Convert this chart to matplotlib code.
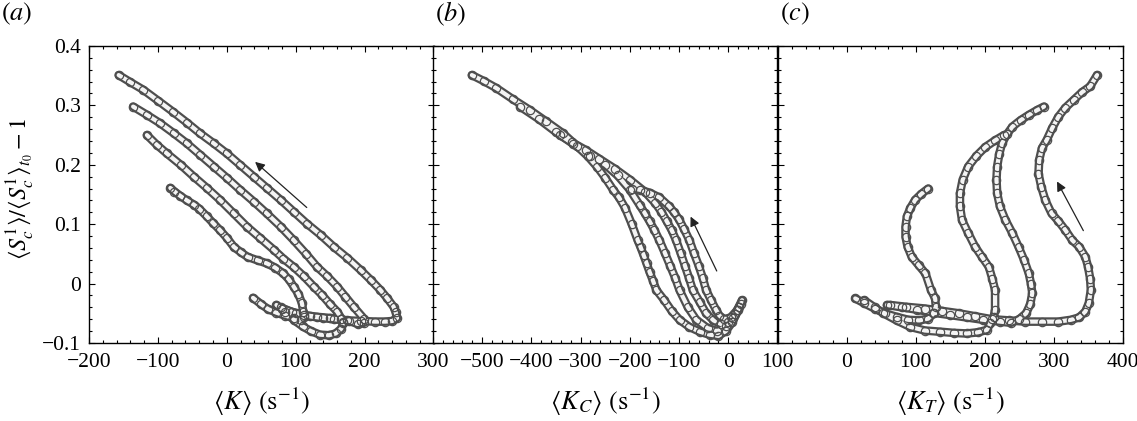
import matplotlib
matplotlib.use("Agg")
import matplotlib.pyplot as plt
from matplotlib.ticker import MultipleLocator, FixedLocator, FixedFormatter

plt.rcParams['font.family'] = ['Liberation Serif', 'DejaVu Serif']
plt.rcParams['mathtext.fontset'] = 'stix'

# ---- data: (x, y) along each trajectory ----
# panel (a): <K> vs normalised S
a1_x = [38, 50, 60, 72, 85, 97, 107, 112, 111, 109, 104, 97, 90, 82, 70, 58, 45, 30, 20, 10, 0, -10, -20, -29, -40, -48, -58, -68, -76, -82]
a1_y = [-0.024, -0.035, -0.043, -0.049, -0.054, -0.058, -0.061, -0.057, -0.048, -0.033, -0.018, -0.005, 0.007, 0.017, 0.027, 0.034, 0.039, 0.045, 0.053, 0.062, 0.077, 0.090, 0.102, 0.113, 0.126, 0.133, 0.140, 0.148, 0.155, 0.161]
a2_x = [72, 85, 98, 110, 122, 135, 148, 158, 166, 169, 169, 160, 150, 138, 126, 112, 97, 82, 68, 48, 29, 10, -10, -29, -48, -67, -87, -102, -116]
a2_y = [-0.036, -0.048, -0.062, -0.072, -0.080, -0.086, -0.087, -0.084, -0.076, -0.066, -0.064, -0.047, -0.035, -0.019, -0.005, 0.012, 0.028, 0.042, 0.057, 0.077, 0.096, 0.118, 0.141, 0.161, 0.180, 0.200, 0.219, 0.234, 0.250]
a3_x = [78, 95, 112, 131, 150, 165, 178, 190, 199, 199, 184, 172, 160, 146, 131, 115, 97, 78, 58, 39, 19, 0, -19, -39, -58, -77, -97, -116, -136]
a3_y = [-0.040, -0.048, -0.053, -0.056, -0.058, -0.060, -0.063, -0.068, -0.066, -0.059, -0.039, -0.022, -0.005, 0.012, 0.028, 0.050, 0.073, 0.096, 0.118, 0.138, 0.158, 0.178, 0.197, 0.217, 0.236, 0.253, 0.270, 0.284, 0.298]
a4_x = [80, 100, 120, 140, 155, 175, 195, 215, 230, 240, 247, 245, 242, 233, 223, 209, 194, 175, 155, 136, 116, 97, 78, 58, 39, 19, 0, -19, -39, -58, -78, -100, -121, -140, -157]
a4_y = [-0.042, -0.050, -0.055, -0.058, -0.060, -0.062, -0.063, -0.064, -0.064, -0.063, -0.058, -0.048, -0.039, -0.025, -0.011, 0.006, 0.023, 0.043, 0.062, 0.082, 0.101, 0.121, 0.141, 0.161, 0.180, 0.200, 0.219, 0.236, 0.253, 0.271, 0.289, 0.308, 0.326, 0.339, 0.351]

# panel (b): <K_C>
b1_x = [28, 18, 5, -8, -18, -25, -35, -45, -52, -60, -70, -79, -90, -100, -110, -120, -140, -160, -180, -195]
b1_y = [-0.028, -0.045, -0.057, -0.060, -0.054, -0.044, -0.028, -0.011, 0.010, 0.030, 0.052, 0.073, 0.092, 0.108, 0.120, 0.130, 0.145, 0.153, 0.158, 0.160]
b2_x = [25, 14, 0, -15, -30, -45, -58, -72, -80, -88, -97, -106, -115, -125, -136, -148, -170, -200, -230, -262, -290, -318, -342]
b2_y = [-0.035, -0.052, -0.064, -0.068, -0.062, -0.050, -0.031, -0.011, 0.010, 0.030, 0.052, 0.073, 0.090, 0.105, 0.121, 0.135, 0.155, 0.175, 0.193, 0.210, 0.225, 0.238, 0.250]
b3_x = [22, 10, -5, -22, -42, -65, -82, -99, -108, -118, -129, -140, -150, -160, -170, -180, -200, -225, -250, -280, -315, -350, -385, -423]
b3_y = [-0.040, -0.058, -0.072, -0.080, -0.075, -0.061, -0.040, -0.011, 0.010, 0.030, 0.052, 0.073, 0.090, 0.105, 0.119, 0.132, 0.158, 0.182, 0.200, 0.215, 0.235, 0.255, 0.277, 0.298]
b4_x = [20, 8, -5, -20, -38, -58, -79, -99, -115, -130, -146, -153, -160, -166, -172, -178, -184, -196, -210, -222, -234, -250, -266, -285, -308, -336, -370, -403, -437, -471, -497, -521]
b4_y = [-0.045, -0.065, -0.080, -0.088, -0.086, -0.081, -0.073, -0.061, -0.046, -0.028, -0.011, 0.005, 0.020, 0.034, 0.048, 0.061, 0.073, 0.100, 0.128, 0.145, 0.158, 0.178, 0.196, 0.214, 0.232, 0.253, 0.273, 0.292, 0.310, 0.329, 0.341, 0.351]

# panel (c): <K_T>
c1_x = [12, 25, 40, 55, 72, 89, 105, 118, 126, 129, 128, 122, 114, 104, 94, 88, 85, 85, 87, 92, 99, 108, 118]
c1_y = [-0.025, -0.033, -0.042, -0.050, -0.056, -0.061, -0.062, -0.059, -0.050, -0.039, -0.025, -0.011, 0.017, 0.031, 0.045, 0.062, 0.079, 0.096, 0.113, 0.127, 0.141, 0.151, 0.160]
c2_x = [25, 40, 53, 72, 92, 113, 135, 155, 174, 190, 203, 208, 213, 215, 215, 211, 206, 196, 186, 176, 167, 164, 164, 168, 176, 188, 201, 215, 228]
c2_y = [-0.028, -0.040, -0.050, -0.062, -0.073, -0.079, -0.081, -0.083, -0.084, -0.082, -0.078, -0.067, -0.056, -0.044, -0.011, 0.008, 0.028, 0.045, 0.062, 0.085, 0.107, 0.130, 0.152, 0.175, 0.197, 0.215, 0.230, 0.241, 0.250]
c3_x = [58, 80, 102, 125, 150, 174, 198, 222, 238, 250, 260, 266, 269, 267, 264, 257, 249, 240, 230, 222, 218, 217, 218, 221, 225, 232, 240, 252, 264, 276, 286]
c3_y = [-0.036, -0.040, -0.044, -0.049, -0.053, -0.057, -0.061, -0.064, -0.066, -0.060, -0.050, -0.035, -0.016, 0.000, 0.017, 0.040, 0.062, 0.085, 0.107, 0.130, 0.152, 0.175, 0.197, 0.218, 0.236, 0.251, 0.264, 0.275, 0.284, 0.292, 0.298]
c4_x = [62, 85, 113, 138, 162, 186, 210, 235, 259, 283, 307, 325, 337, 346, 351, 354, 353, 350, 346, 337, 327, 317, 307, 297, 288, 282, 278, 279, 283, 290, 298, 307, 317, 329, 341, 353, 363]
c4_y = [-0.036, -0.039, -0.042, -0.046, -0.050, -0.055, -0.060, -0.062, -0.064, -0.064, -0.064, -0.061, -0.057, -0.047, -0.033, -0.011, 0.008, 0.028, 0.045, 0.062, 0.073, 0.090, 0.105, 0.118, 0.140, 0.163, 0.185, 0.208, 0.228, 0.242, 0.262, 0.281, 0.296, 0.309, 0.322, 0.332, 0.351]

# axis settings
y_ticks = [-0.1, 0, 0.1, 0.2, 0.3, 0.4]
y_labels = ['\u22120.1', '0', '0.1', '0.2', '0.3', '0.4']
a_ticks = [-200, -100, 0, 100, 200, 300]
a_labels = ['\u2212200', '\u2212100', '0', '100', '200', '300']
b_ticks = [-600, -500, -400, -300, -200, -100, 0, 100]
b_labels = ['', '\u2212500', '\u2212400', '\u2212300', '\u2212200', '\u2212100', '0', '100']
c_ticks = [-100, 0, 100, 200, 300, 400]
c_labels = ['', '0', '100', '200', '300', '400']

panels = [
    dict(curves=[(a1_x, a1_y), (a2_x, a2_y), (a3_x, a3_y), (a4_x, a4_y)],
         xlim=(-200, 300), ticks=a_ticks, labels=a_labels,
         xlabel=r'$\langle K\rangle\ (\mathrm{s}^{-1})$', tag=r'$(a)$',
         arrow=((119, 0.125), (38, 0.208))),
    dict(curves=[(b1_x, b1_y), (b2_x, b2_y), (b3_x, b3_y), (b4_x, b4_y)],
         xlim=(-600, 100), ticks=b_ticks, labels=b_labels,
         xlabel=r'$\langle K_C\rangle\ (\mathrm{s}^{-1})$', tag=r'$(b)$',
         arrow=((-21, 0.017), (-79, 0.117))),
    dict(curves=[(c1_x, c1_y), (c2_x, c2_y), (c3_x, c3_y), (c4_x, c4_y)],
         xlim=(-100, 400), ticks=c_ticks, labels=c_labels,
         xlabel=r'$\langle K_T\rangle\ (\mathrm{s}^{-1})$', tag=r'$(c)$',
         arrow=((345, 0.085), (303, 0.176))),
]

fig = plt.figure(figsize=(11.37, 4.21), dpi=100)
lefts = [0.0783, 0.3808, 0.6843]
tag_x = [0.001, 0.383, 0.686]
edge = '#4e4e4e'

for i, p in enumerate(panels):
    ax = fig.add_axes([lefts[i], 0.1853, 0.3030, 0.7055])
    for xs, ys in p['curves']:
        # chain-of-circles look: grey tube with circles on top
        ax.plot(xs, ys, '-', color=edge, lw=6.2, solid_capstyle='round', zorder=2)
        ax.plot(xs, ys, '-', color='#f4f4f4', lw=3.0, solid_capstyle='round', zorder=3)
        ax.plot(xs, ys, 'o', ms=6.0, mfc='none', mec=edge, mew=0.9, zorder=4)

    ax.set_xlim(*p['xlim'])
    ax.set_ylim(-0.1, 0.4)
    ax.xaxis.set_major_locator(FixedLocator(p['ticks']))
    ax.xaxis.set_major_formatter(FixedFormatter(p['labels']))
    ax.xaxis.set_minor_locator(MultipleLocator(20))
    ax.yaxis.set_major_locator(FixedLocator(y_ticks))
    ax.yaxis.set_minor_locator(MultipleLocator(0.02))
    if i == 0:
        ax.yaxis.set_major_formatter(FixedFormatter(y_labels))
        ax.set_ylabel(r'$\langle S_c^1\rangle/\langle S_c^1\rangle_{t_0}-1$', fontsize=17.5)
        ax.yaxis.set_label_coords(-0.15, 0.52)
    else:
        ax.set_yticklabels([])
    ax.tick_params(which='both', direction='in', top=True, right=True, labelsize=15.5, width=0.8)
    ax.tick_params(which='major', length=4)
    ax.tick_params(which='minor', length=2)
    ax.tick_params(axis='x', pad=7)
    ax.tick_params(axis='y', pad=6)
    for s in ax.spines.values():
        s.set_linewidth(1.0)
    ax.set_xlabel(p['xlabel'], fontsize=19)
    ax.xaxis.set_label_coords(0.5, -0.145)

    (tx, ty), (hx, hy) = p['arrow']
    ax.annotate('', xy=(hx, hy), xytext=(tx, ty),
                arrowprops=dict(arrowstyle='-|>', lw=0.9, color='#222222', mutation_scale=14),
                zorder=5)

    fig.text(tag_x[i], 0.967, p['tag'], fontsize=19, va='center')

plt.savefig('out.png', dpi=100, facecolor='white')
